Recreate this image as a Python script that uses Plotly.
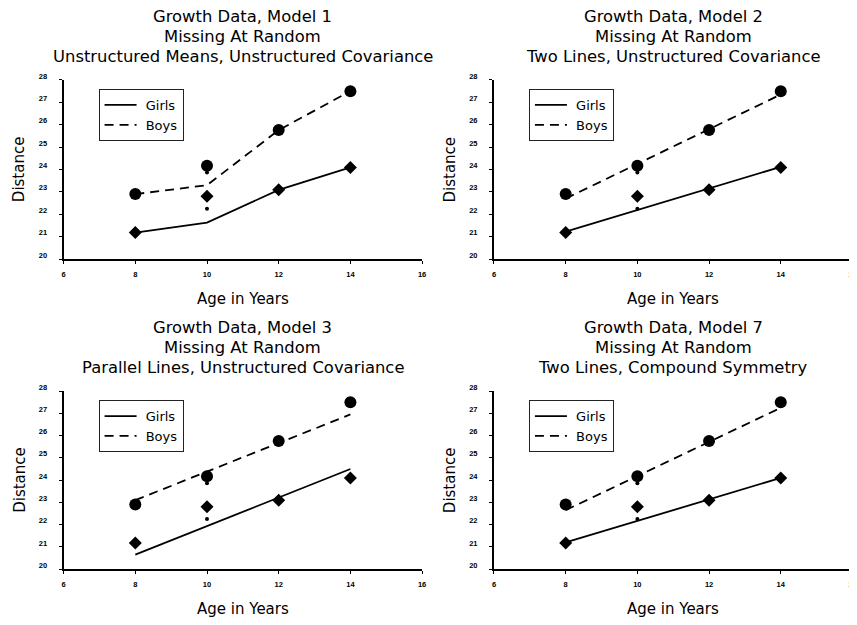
import plotly.graph_objects as go

# ---------------- data ----------------
ages = [8, 10, 12, 14]
girls_obs = [21.18, 22.8, 23.09, 24.09]
boys_obs = [22.9, 24.17, 25.76, 27.5]
age_complete = [10]
girls_complete = [22.25]
boys_complete = [23.86]

model1_girls = [21.18, 21.63, 23.09, 24.09]
model1_boys = [22.9, 23.3, 25.76, 27.5]
model2_girls = [21.22, 22.18, 23.15, 24.12]
model2_boys = [22.7, 24.25, 25.8, 27.35]
model3_girls = [20.65, 21.93, 23.22, 24.5]
model3_boys = [23.1, 24.38, 25.67, 26.95]
model7_girls = [21.2, 22.17, 23.13, 24.1]
model7_boys = [22.65, 24.18, 25.72, 27.25]

titles = [
    ["Growth Data, Model 1", "Missing At Random", "Unstructured Means, Unstructured Covariance"],
    ["Growth Data, Model 2", "Missing At Random", "Two Lines, Unstructured Covariance"],
    ["Growth Data, Model 3", "Missing At Random", "Parallel Lines, Unstructured Covariance"],
    ["Growth Data, Model 7", "Missing At Random", "Two Lines, Compound Symmetry"],
]
fits = [(model1_girls, model1_boys), (model2_girls, model2_boys),
        (model3_girls, model3_boys), (model7_girls, model7_boys)]
x_ticks = [6, 8, 10, 12, 14, 16]
y_ticks = [20, 21, 22, 23, 24, 25, 26, 27, 28]
x_title = "Age in Years"
y_title = "Distance"
legend_names = ["Girls", "Boys"]

# ---------------- layout geometry ----------------
OFF = 8
W, H = 857 - OFF, 625 - OFF
panels = [  # left, right, top, bottom (target picture pixels)
    (62, 421, 79, 258),
    (493, 852, 79, 258),
    (62, 421, 390, 568),
    (493, 852, 390, 568),
]
FONT = "DejaVu Sans"
NB = "\u00a0"


def fig_x(p):
    return (p - 0.35) / 0.9944 - OFF


def fig_y(p):
    return (p - 7.2) / 0.985 - OFF


def px_x(p):
    return fig_x(p) / W


def px_y(p):
    return 1 - fig_y(p) / H


fig = go.Figure()
annotations = []
layout_axes = {}

for i, ((l, r, t, b), (g_fit, b_fit), ttl) in enumerate(zip(panels, fits, titles)):
    n = i + 1
    xa = "x" if n == 1 else f"x{n}"
    ya = "y" if n == 1 else f"y{n}"
    leg = "legend" if n == 1 else f"legend{n}"

    fig.add_trace(go.Scatter(x=ages, y=g_fit, mode="lines", name=NB + legend_names[0],
                             line=dict(color="black", width=1.8), xaxis=xa, yaxis=ya,
                             legend=leg, showlegend=True))
    fig.add_trace(go.Scatter(x=ages, y=b_fit, mode="lines", name=NB + legend_names[1],
                             line=dict(color="black", width=1.8, dash="9px,6px"),
                             xaxis=xa, yaxis=ya, legend=leg, showlegend=True))
    fig.add_trace(go.Scatter(x=ages, y=girls_obs, mode="markers",
                             marker=dict(symbol="diamond", size=10, color="black"),
                             xaxis=xa, yaxis=ya, showlegend=False))
    fig.add_trace(go.Scatter(x=ages, y=boys_obs, mode="markers",
                             marker=dict(symbol="circle", size=12, color="black"),
                             xaxis=xa, yaxis=ya, showlegend=False))
    fig.add_trace(go.Scatter(x=age_complete, y=girls_complete, mode="markers",
                             marker=dict(symbol="circle", size=4, color="black"),
                             xaxis=xa, yaxis=ya, showlegend=False))
    fig.add_trace(go.Scatter(x=age_complete, y=boys_complete, mode="markers",
                             marker=dict(symbol="circle", size=4, color="black"),
                             xaxis=xa, yaxis=ya, showlegend=False))

    axis_common = dict(showline=True, linewidth=2, linecolor="black", mirror=False,
                       showgrid=False, zeroline=False, ticks="outside", ticklen=3,
                       tickwidth=1, tickcolor="black",
                       tickfont=dict(family="Liberation Sans", size=7.5, color="black",
                                     weight="bold"))
    layout_axes["xaxis" if n == 1 else f"xaxis{n}"] = dict(
        axis_common, domain=[px_x(l), min(px_x(r), 1)], range=[6, 16], tickvals=x_ticks,
        anchor=ya, ticklabelstandoff=4)
    layout_axes["yaxis" if n == 1 else f"yaxis{n}"] = dict(
        axis_common, domain=[px_y(b), px_y(t)], range=[20, 28], tickvals=y_ticks,
        anchor=xa, ticklabelstandoff=10, ticklabelshift=-4)

    cx = (l + r) / 2
    for k, line in enumerate(ttl):
        annotations.append(dict(text=line, x=px_x(cx), y=px_y(t - 63.5 + 20 * k),
                                xref="paper", yref="paper", showarrow=False,
                                xanchor="center", yanchor="middle",
                                font=dict(family=FONT, size=16.4, color="black")))
    annotations.append(dict(text=x_title, x=px_x(cx), y=px_y(b + 40), xref="paper",
                            yref="paper", showarrow=False, xanchor="center",
                            yanchor="middle",
                            font=dict(family=FONT, size=15, color="black")))
    annotations.append(dict(text=y_title, x=px_x(l - 44), y=px_y((t + b) / 2),
                            xref="paper", yref="paper", showarrow=False, textangle=-90,
                            xanchor="center", yanchor="middle",
                            font=dict(family=FONT, size=15, color="black")))
    layout_axes[leg] = dict(x=px_x(l + 35), y=px_y(t + 9), xanchor="left", yanchor="top",
                            bordercolor="#222", borderwidth=1, bgcolor="white",
                            font=dict(family=FONT, size=13, color="black"),
                            itemwidth=32, tracegroupgap=0)

fig.update_layout(
    width=W, height=H, margin=dict(l=0, r=0, t=0, b=0),
    paper_bgcolor="white", plot_bgcolor="white",
    annotations=annotations, **layout_axes,
)

fig.write_html("out.html")
